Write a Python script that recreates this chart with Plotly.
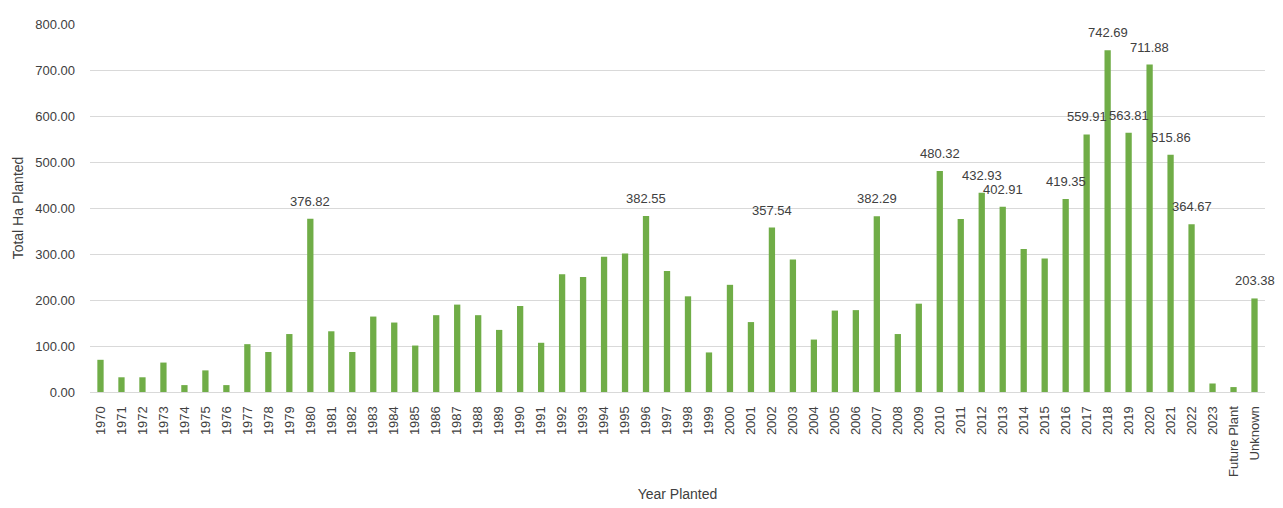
import plotly.graph_objects as go

categories = [str(y) for y in range(1970, 2024)] + ["Future Plant", "Unknown"]
values = [70, 32, 32, 64, 15, 47, 15, 104, 87, 126,
          376.82, 132, 87, 164, 151, 101, 167, 190, 167, 135,
          187, 107, 256, 250, 294, 301, 382.55, 263, 208, 86,
          233, 152, 357.54, 288, 114, 177, 178, 382.29, 126, 192,
          480.32, 376, 432.93, 402.91, 311, 290, 419.35, 559.91, 742.69, 563.81,
          711.88, 515.86, 364.67, 18.5, 10.7, 203.38]
labelled = ["1980", "1996", "2002", "2007", "2010", "2012", "2013", "2016", "2017",
            "2018", "2019", "2020", "2021", "2022", "Unknown"]
y_ticks = [0, 100, 200, 300, 400, 500, 600, 700, 800]

font = "Liberation Sans"
fig = go.Figure(go.Bar(x=categories, y=values, marker_color="#70AD47",
                       marker_line_width=0, hoverinfo="x+y"))

for i, (c, v) in enumerate(zip(categories, values)):
    if c in labelled:
        fig.add_annotation(x=i, y=v, text=f"{v:.2f}", showarrow=False,
                           yanchor="bottom", yshift=8,
                           font=dict(family=font, size=13, color="#404040"))

fig.add_shape(type="line", xref="paper", yref="paper", x0=1.011, x1=1.011,
              y0=-0.35, y1=1.05, line=dict(color="#D0D0D0", width=1.5))

fig.update_layout(
    width=1283, height=508,
    margin=dict(l=80, r=26, t=9, b=124),
    paper_bgcolor="white", plot_bgcolor="white",
    bargap=0.7, showlegend=False,
    font=dict(family=font, size=13, color="#404040"),
    xaxis=dict(type="category", tickangle=-90, showgrid=False,
               tickmode="array", tickvals=categories, ticktext=categories,
               range=[-0.5, len(categories) - 0.5],
               showline=True, linecolor="#D9D9D9", linewidth=1,
               ticks="", ticklabelstandoff=8,
               tickfont=dict(size=13, color="#404040"),
               title=dict(text="Year Planted", standoff=13,
                          font=dict(size=14, color="#404040"))),
    yaxis=dict(range=[0, 800], tickvals=y_ticks,
               ticktext=[f"{t:.2f}" for t in y_ticks],
               showgrid=True, gridcolor="#D9D9D9", gridwidth=1,
               zeroline=False, ticks="", ticklabelstandoff=14,
               tickfont=dict(size=13, color="#404040"),
               title=dict(text="Total Ha Planted", standoff=8,
                          font=dict(size=14, color="#404040"))),
)

fig.write_html("out.html")
